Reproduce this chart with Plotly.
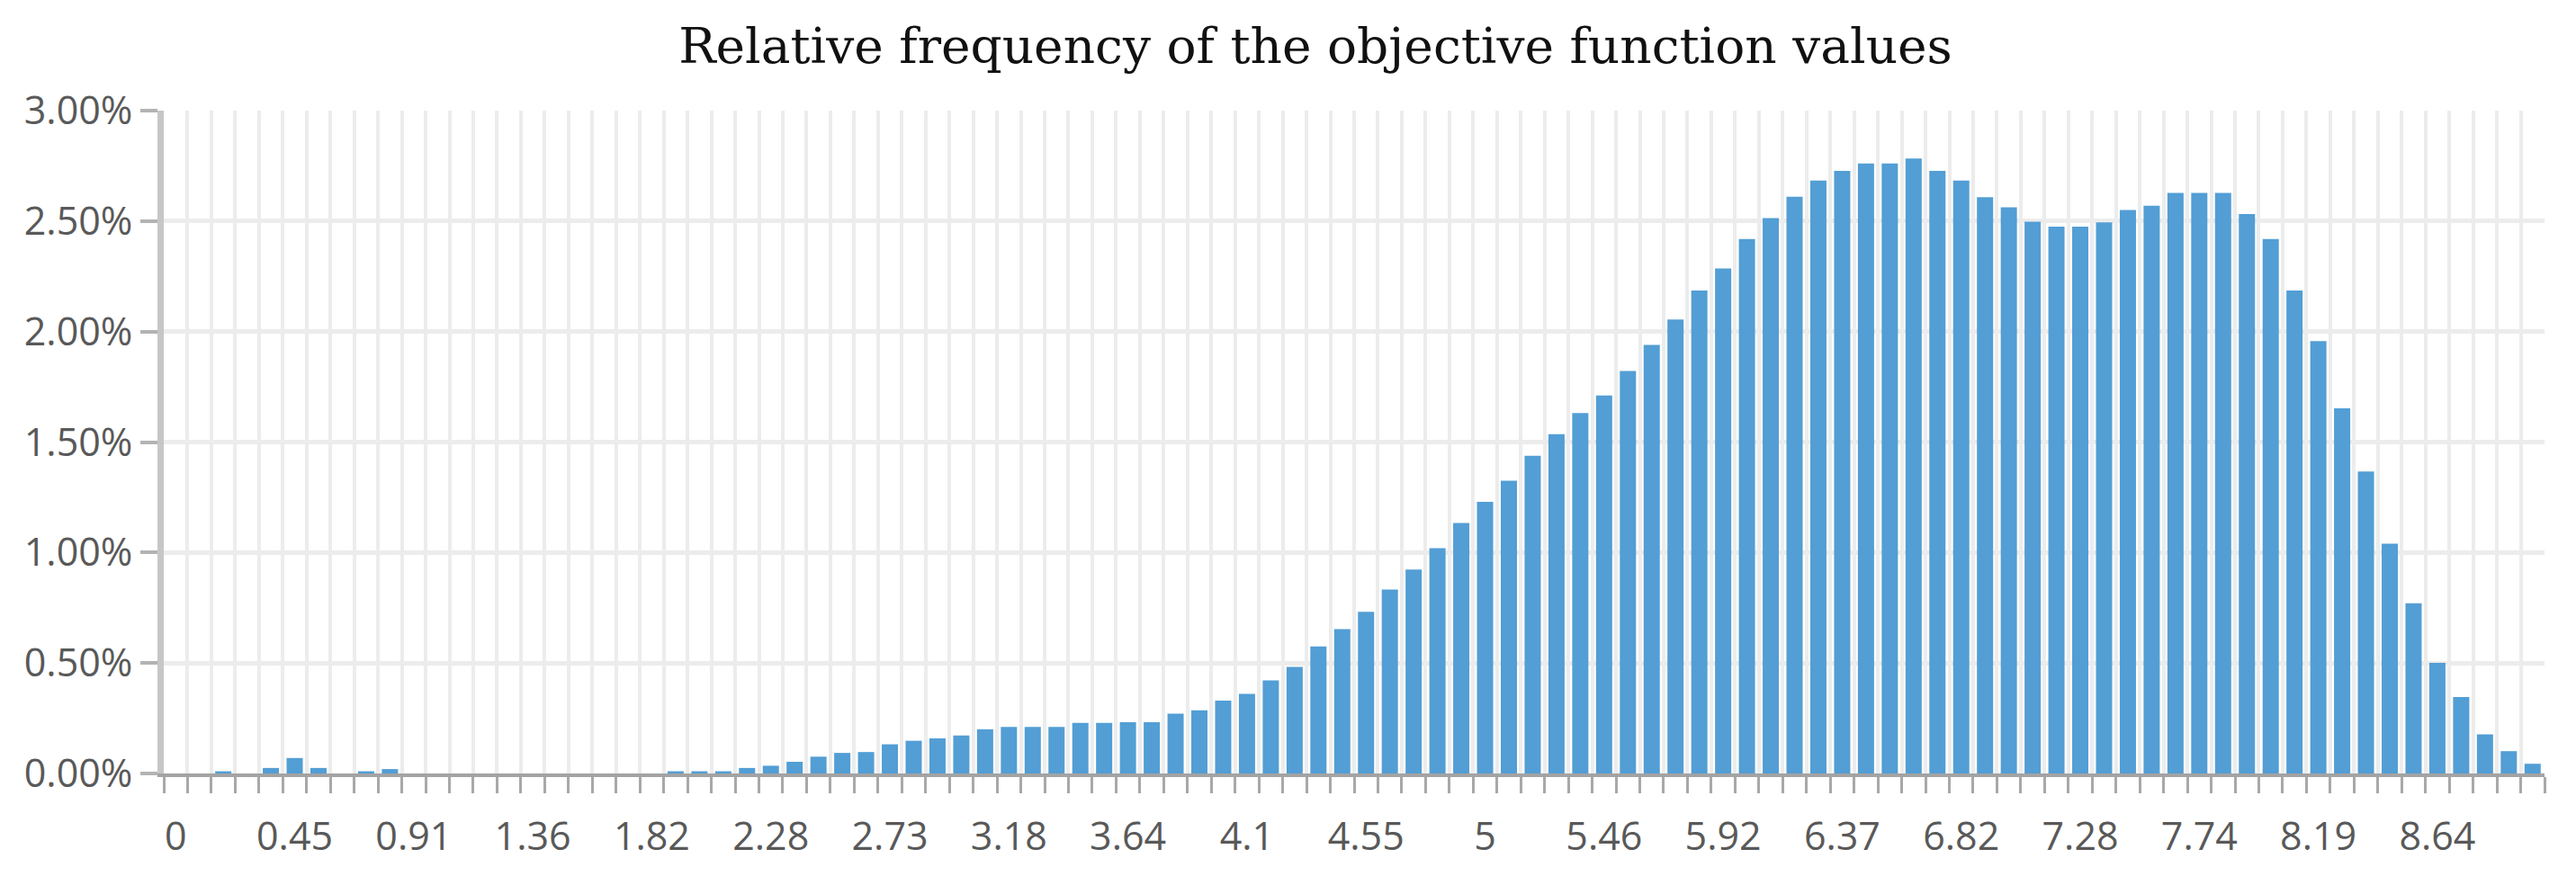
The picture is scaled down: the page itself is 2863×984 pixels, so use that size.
import plotly.graph_objects as go

# Relative frequency (%) of each of the 100 histogram bins
freq_pct = [
    0.0, 0.0, 0.01, 0.0, 0.025, 0.07, 0.025, 0.0, 0.01, 0.02,
    0.0, 0.0, 0.0, 0.0, 0.0, 0.0, 0.0, 0.0, 0.0, 0.0,
    0.0, 0.01, 0.01, 0.01, 0.025, 0.035, 0.053, 0.076, 0.093, 0.097,
    0.132, 0.148, 0.159, 0.172, 0.200, 0.211, 0.211, 0.211, 0.229, 0.229,
    0.232, 0.232, 0.271, 0.286, 0.330, 0.360, 0.421, 0.482, 0.575, 0.653,
    0.732, 0.832, 0.923, 1.020, 1.134, 1.229, 1.325, 1.438, 1.536, 1.631,
    1.711, 1.822, 1.940, 2.055, 2.186, 2.286, 2.419, 2.514, 2.610, 2.684,
    2.727, 2.761, 2.761, 2.783, 2.727, 2.684, 2.608, 2.562, 2.497, 2.475,
    2.475, 2.494, 2.550, 2.570, 2.628, 2.628, 2.628, 2.532, 2.419, 2.186,
    1.957, 1.653, 1.367, 1.040, 0.770, 0.501, 0.346, 0.177, 0.101, 0.044,
]
bin_index = list(range(len(freq_pct)))

tick_positions = list(range(0, 100, 5))
tick_labels = ["0", "0.45", "0.91", "1.36", "1.82", "2.28", "2.73", "3.18", "3.64", "4.1",
               "4.55", "5", "5.46", "5.92", "6.37", "6.82", "7.28", "7.74", "8.19", "8.64"]
bin_edges = [i - 0.5 for i in range(len(freq_pct) + 1)]

fig = go.Figure(go.Bar(x=bin_index, y=freq_pct, marker_color="#529ED5",
                       marker_line_width=0))

fig.update_layout(
    width=2863, height=984,
    margin=dict(l=174, r=43, t=115, b=132),
    paper_bgcolor="white", plot_bgcolor="white",
    bargap=0.32,
    showlegend=False,
    title=dict(text="Relative frequency of the objective function values",
               font=dict(family="DejaVu Serif", size=55, color="#111111"),
               x=1454 / 2863, xanchor="center", xref="container",
               y=1 - 43 / 984, yanchor="middle", yref="container"),
)

fig.update_xaxes(
    range=[-0.5, 99.5],
    tickmode="array", tickvals=tick_positions, ticktext=tick_labels,
    ticks="", showgrid=False, zeroline=False,
    showline=True, linecolor="#a3a3a3", linewidth=4,
    tickfont=dict(family="Open Sans", size=43, color="#595959"),
    ticklabelstandoff=29,
    minor=dict(tickmode="array", tickvals=bin_edges, ticks="outside", ticklen=18,
               tickwidth=3, tickcolor="#a8a8a8", showgrid=True,
               gridcolor="#ececec", gridwidth=4),
)

fig.update_yaxes(
    range=[0, 3], dtick=0.5, tickformat=".2f", ticksuffix="%",
    ticks="outside", ticklen=19, tickwidth=4, tickcolor="#b3b3b3",
    showgrid=True, gridcolor="#ececec", gridwidth=5, zeroline=False,
    showline=True, linecolor="#c6c6c6", linewidth=7,
    tickfont=dict(family="Open Sans", size=43, color="#595959"),
    ticklabelstandoff=0,
)

fig.write_html("out.html")
